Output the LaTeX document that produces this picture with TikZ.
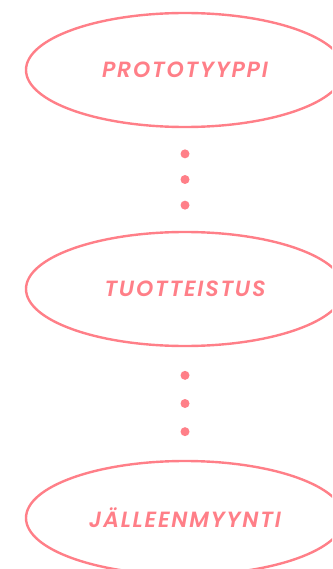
\documentclass[tikz,border=0pt]{standalone}
\usepackage{fontspec}
\setmainfont{Poppins}
\newfontfamily\stagefont[LetterSpace=8, ItalicFont={Poppins SemiBold Italic}]{Poppins SemiBold}
\usetikzlibrary{positioning, shapes.geometric}
\definecolor{stagepink}{HTML}{FF7F88}

\begin{document}
\begin{tikzpicture}[x=1pt, y=1pt,
    every node/.style={font=\stagefont\fontsize{22}{25}\selectfont\itshape},
    stage/.style={draw=stagepink, line width=2.4pt, ellipse, text=stagepink,
      minimum width=318pt, minimum height=114pt, inner sep=0pt},
    dot/.style={circle, fill=stagepink, minimum size=9pt, inner sep=0pt},
  ]
  \useasboundingbox (0,0) rectangle (332,-569);
  \clip (0,0) rectangle (332,-569);
  \node[stage] (proto) at (185, -70) {PROTOTYYPPI};
  \node[stage] (tuote) at (185, -289) {TUOTTEISTUS};
  \node[stage] (myynti) at (185, -518) {JÄLLEENMYYNTI};
  % dotted links
  \path (proto.south) -- (tuote.north)
    node[dot, pos=0.25] {} node[dot, pos=0.5] {} node[dot, pos=0.75] {};
  \path (tuote.south) -- (myynti.north)
    node[dot, pos=0.25] {} node[dot, pos=0.5] {} node[dot, pos=0.75] {};
\end{tikzpicture}
\end{document}
